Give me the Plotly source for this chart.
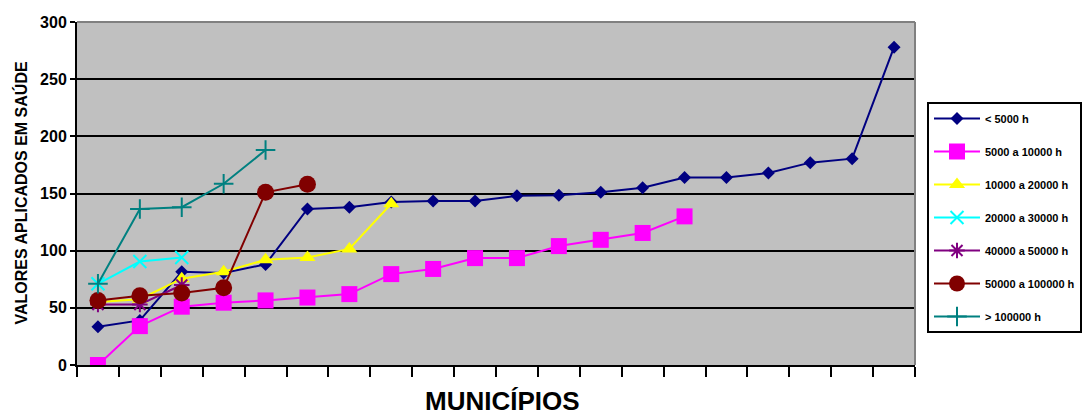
import plotly.graph_objects as go

# Municipalities ranked by amount applied to health, grouped by population size
municipios = list(range(1, 21))

abaixo_5000 = [33.5, 39, 81.5, 80.5, 88, 136.5, 138, 142.5, 143.5, 143.5,
               148, 148.5, 151, 155, 164, 164, 168, 177, 180.5, 278]
de_5000_a_10000 = [0, 34, 51, 54.5, 56.5, 59, 62, 79.5, 84, 93.5,
                   93.5, 104, 109.5, 115.5, 130]
de_10000_a_20000 = [55, 57.5, 75.5, 81.5, 92, 94, 101.5, 141]
de_20000_a_30000 = [71, 90.5, 94]
de_40000_a_50000 = [53, 53, 70]
de_50000_a_100000 = [56.5, 60.5, 63, 67.5, 151, 158]
acima_100000 = [71, 136.5, 138, 158.5, 188]

series = [
    ("< 5000 h", abaixo_5000, "#000080", "diamond", 10),
    ("5000 a 10000 h", de_5000_a_10000, "#FF00FF", "square", 16),
    ("10000 a 20000 h", de_10000_a_20000, "#FFFF00", "triangle-up", 14),
    ("20000 a 30000 h", de_20000_a_30000, "#00FFFF", "x-thin-open", 13),
    ("40000 a 50000 h", de_40000_a_50000, "#800080", "asterisk-open", 13),
    ("50000 a 100000 h", de_50000_a_100000, "#800000", "circle", 17),
    ("> 100000 h", acima_100000, "#008080", "cross-thin-open", 14),
]

fig = go.Figure()
for nome, valores, cor, simbolo, tamanho in series:
    aberto = simbolo.endswith("open")
    fig.add_trace(go.Scatter(
        x=municipios[:len(valores)],
        y=valores,
        name=nome,
        legendgroup=nome,
        mode="lines+markers",
        line=dict(color=cor, width=2),
        marker=dict(symbol=simbolo, size=tamanho, color=cor,
                    line=dict(color=cor, width=2 if aberto else 0)),
    ))

fonte = dict(family="Liberation Sans, Arial, sans-serif", color="black", weight="bold")

fig.update_layout(
    width=1092, height=417,
    margin=dict(l=77, r=177, t=22, b=52, autoexpand=False),
    paper_bgcolor="white",
    plot_bgcolor="#C0C0C0",
    font=dict(**fonte, size=16),
    showlegend=True,
    legend=dict(
        xref="container", yref="container",
        x=927 / 1092, y=1 - 102 / 417, xanchor="left", yanchor="top",
        bgcolor="white", bordercolor="black", borderwidth=2,
        font=dict(**fonte, size=11),
        tracegroupgap=14,
        itemwidth=46,
        maxheight=300,
    ),
    xaxis=dict(
        range=[0.5, 20.5],
        tickmode="array",
        tickvals=[i + 0.5 for i in range(0, 21)],
        showticklabels=False,
        ticks="outside", ticklen=10, tickwidth=2, tickcolor="black",
        showgrid=False, zeroline=False,
        showline=True, linecolor="black", linewidth=2,
    ),
    yaxis=dict(
        range=[0, 300],
        tickmode="linear", tick0=0, dtick=50,
        ticks="outside", ticklen=5, tickwidth=2, tickcolor="black",
        tickfont=dict(**fonte, size=16),
        showgrid=True, gridcolor="black", gridwidth=2,
        zeroline=False,
        showline=True, linecolor="black", linewidth=2,
    ),
    annotations=[
        dict(text="VALORES APLICADOS EM SAÚDE", textangle=-90,
             xref="paper", yref="paper", x=-0.068, y=0.5,
             xanchor="center", yanchor="middle", showarrow=False,
             font=dict(**fonte, size=16)),
        dict(text="MUNICÍPIOS",
             xref="paper", yref="paper", x=0.508, y=-0.105,
             xanchor="center", yanchor="middle", showarrow=False,
             font=dict(**fonte, size=26)),
    ],
    shapes=[
        dict(type="line", xref="paper", yref="paper", x0=0, x1=1, y0=1, y1=1,
             line=dict(color="#808080", width=2), layer="above"),
        dict(type="line", xref="paper", yref="paper", x0=1, x1=1, y0=0, y1=1,
             line=dict(color="#808080", width=2), layer="above"),
    ],
)

fig.write_html("out.html")
